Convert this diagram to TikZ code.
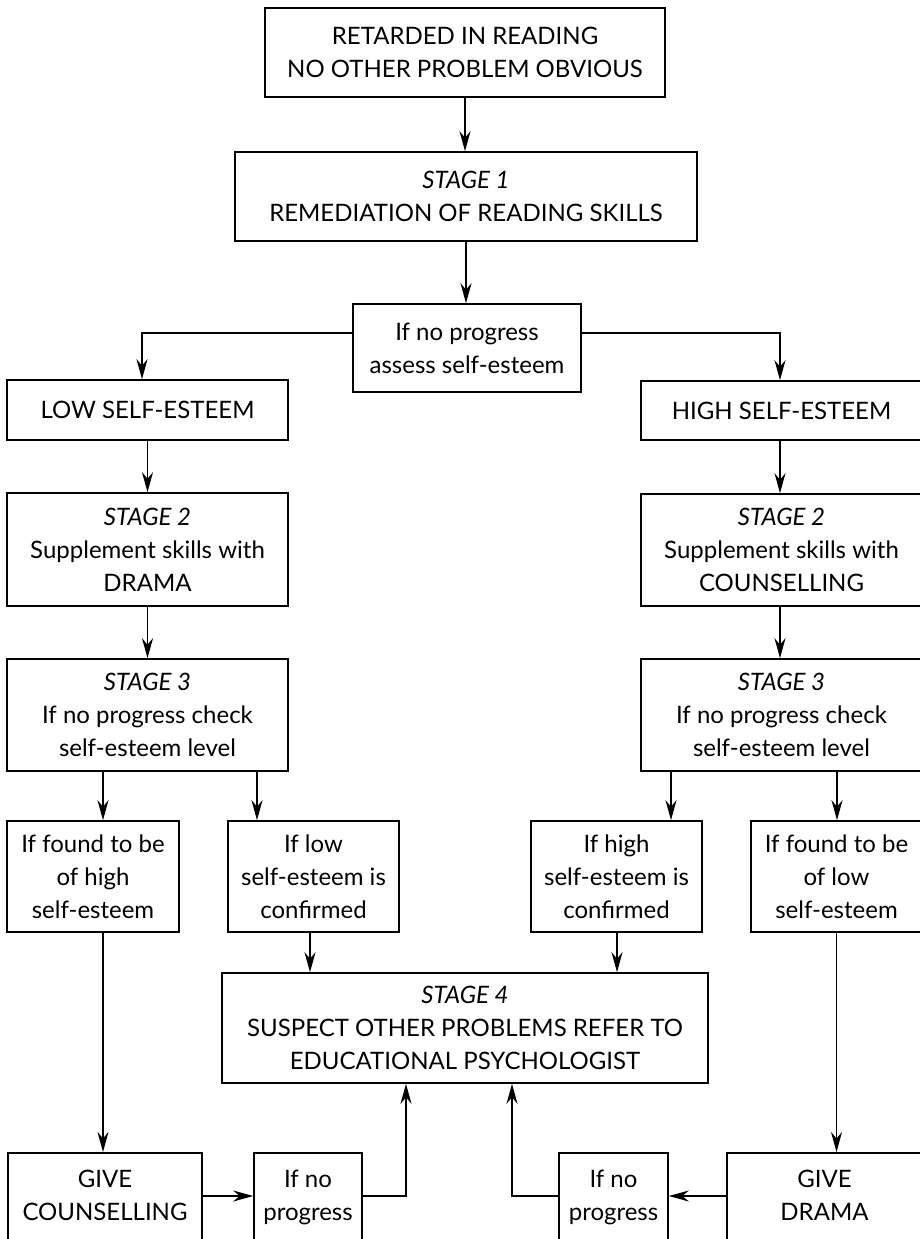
\documentclass[tikz,border=0pt]{standalone}
\usepackage{fontspec}
\setmainfont{Lato}
\usetikzlibrary{arrows.meta}

\begin{document}
\begin{tikzpicture}[>={Stealth[length=20pt,width=11pt]},x=1pt,y=-1pt,line width=1.8pt,
	box/.style={draw,line width=1.6pt,align=center,inner sep=0pt,font=\fontsize{24}{33}\selectfont},
	bottombox/.style={box,anchor=north,inner ysep=17pt}]
	\def\tail{\rule[-70pt]{0pt}{0pt}} % bottom boxes run past the page edge
	\useasboundingbox (0,0) rectangle (920,1239);
	% top and stage 1
	\node[box,minimum width=400,minimum height=89] (top) at (465,52.5) {RETARDED IN READING\\NO OTHER PROBLEM OBVIOUS};
	\node[box,minimum width=462,minimum height=89] (s1) at (466,196.5) {\textit{STAGE 1}\\REMEDIATION OF READING SKILLS};
	\node[box,minimum width=228,minimum height=88] (assess) at (467,348) {If no progress\\assess self-esteem};
	% left column
	\node[box,minimum width=281,minimum height=60] (low) at (147.5,410) {LOW SELF-ESTEEM};
	\node[box,minimum width=281,minimum height=113] (s2L) at (147.5,549.5) {\textit{STAGE 2}\\Supplement skills with\\DRAMA};
	\node[box,minimum width=281,minimum height=112] (s3L) at (147.5,715) {\textit{STAGE 3}\\If no progress check\\self-esteem level};
	\node[box,minimum width=172,minimum height=111] (fhigh) at (93,876.5) {If found to be\\of high\\self-esteem};
	\node[box,minimum width=171,minimum height=111] (clow) at (313.5,876.5) {If low\\self-esteem is\\confirmed};
	% right column
	\node[box,minimum width=281,minimum height=59] (high) at (781.5,410.5) {HIGH SELF-ESTEEM};
	\node[box,minimum width=281,minimum height=112] (s2R) at (781.5,550) {\textit{STAGE 2}\\Supplement skills with\\COUNSELLING};
	\node[box,minimum width=281,minimum height=112] (s3R) at (781.5,715) {\textit{STAGE 3}\\If no progress check\\self-esteem level};
	\node[box,minimum width=171,minimum height=111] (chigh) at (616.5,876.5) {If high\\self-esteem is\\confirmed};
	\node[box,minimum width=171,minimum height=111] (flow) at (836.5,876.5) {If found to be\\of low\\self-esteem};
	% stage 4 and bottom row
	\node[box,minimum width=486,minimum height=110] (s4) at (465,1028) {\textit{STAGE 4}\\SUSPECT OTHER PROBLEMS REFER TO\\EDUCATIONAL PSYCHOLOGIST};
	\node[bottombox,minimum width=194] (gc) at (105,1152) {GIVE\\COUNSELLING\tail};
	\node[bottombox,minimum width=108] (np1) at (308,1152) {If no\\progress\tail};
	\node[bottombox,minimum width=109] (np2) at (613.5,1152) {If no\\progress\tail};
	\node[bottombox,minimum width=195] (gd) at (824.5,1152) {GIVE\\DRAMA\tail};
	\coordinate (row) at (0,1196);
	% connectors
	\draw[->] (top.south) -- (top.south |- s1.north);
	\draw[->] (s1.south) -- (s1.south |- assess.north);
	\draw[->] ([yshift=15pt]assess.west) -| ([xshift=-5.5pt]low.north);
	\draw[->] ([yshift=15pt]assess.east) -| ([xshift=-1.5pt]high.north);
	\draw[->] (low.south) -- (low.south |- s2L.north);
	\draw[->] ([xshift=-1.5pt]high.south) -- ([xshift=-1.5pt]high.south |- s2R.north);
	\draw[->] (s2L.south) -- (s2L.south |- s3L.north);
	\draw[->] ([xshift=-1.5pt]s2R.south) -- ([xshift=-1.5pt]s2R.south |- s3R.north);
	\draw[->] ([xshift=-44.5pt]s3L.south) -- ([xshift=10pt]fhigh.north);
	\draw[->] ([xshift=109.5pt]s3L.south) -- ([xshift=-56.5pt]clow.north);
	\draw[->] ([xshift=-110.5pt]s3R.south) -- ([xshift=54.5pt]chigh.north);
	\draw[->] ([xshift=55.5pt]s3R.south) -- ([xshift=0.5pt]flow.north);
	\draw[->] ([xshift=-3.5pt]clow.south) -- ([xshift=-155pt]s4.north);
	\draw[->] ([xshift=0.5pt]chigh.south) -- ([xshift=152pt]s4.north);
	\draw[->] ([xshift=10pt]fhigh.south) -- ([xshift=-2pt]gc.north);
	\draw[->] (flow.south) -- ([xshift=12pt]gd.north);
	\draw[->] (gc.east |- row) -- (np1.west |- row);
	\draw[->] (np1.east |- row) -| ([xshift=-59pt]s4.south);
	\draw[->] (gd.west |- row) -- (np2.east |- row);
	\draw[->] (np2.west |- row) -| ([xshift=47pt]s4.south);
\end{tikzpicture}
\end{document}
